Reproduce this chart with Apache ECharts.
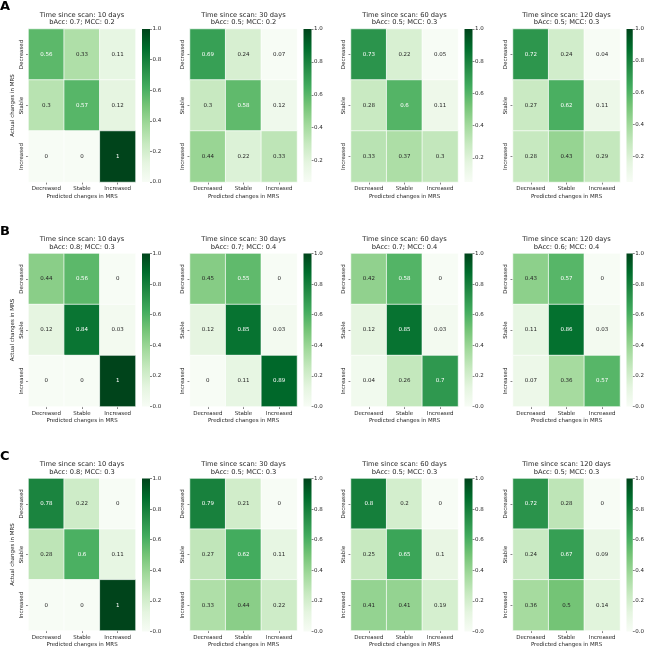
<!DOCTYPE html>
<html>
<head>
<meta charset="utf-8">
<script src="https://cdn.jsdelivr.net/npm/echarts@6/dist/echarts.min.js"></script>
<style>
html,body{margin:0;padding:0;background:#fff;}
#chart{width:647px;height:649px;}
</style>
</head>
<body>
<div id="chart"></div>
<script>
// ---- data ----
var categories = ['Decreased', 'Stable', 'Increased'];
var panelLetters = ['A', 'B', 'C'];
var days = [10, 30, 60, 120];
var bAcc = [[0.7, 0.5, 0.5, 0.5], [0.8, 0.7, 0.7, 0.6], [0.8, 0.5, 0.5, 0.5]];
var mcc  = [[0.2, 0.2, 0.3, 0.3], [0.3, 0.4, 0.4, 0.4], [0.3, 0.3, 0.3, 0.3]];
var colorbarTicks = [0.0, 0.2, 0.4, 0.6, 0.8, 1.0];

var matA10  = [[0.56, 0.33, 0.11], [0.3, 0.57, 0.12], [0, 0, 1]];
var matA30  = [[0.69, 0.24, 0.07], [0.3, 0.58, 0.12], [0.44, 0.22, 0.33]];
var matA60  = [[0.73, 0.22, 0.05], [0.28, 0.6, 0.11], [0.33, 0.37, 0.3]];
var matA120 = [[0.72, 0.24, 0.04], [0.27, 0.62, 0.11], [0.28, 0.43, 0.29]];
var matB10  = [[0.44, 0.56, 0], [0.12, 0.84, 0.03], [0, 0, 1]];
var matB30  = [[0.45, 0.55, 0], [0.12, 0.85, 0.03], [0, 0.11, 0.89]];
var matB60  = [[0.42, 0.58, 0], [0.12, 0.85, 0.03], [0.04, 0.26, 0.7]];
var matB120 = [[0.43, 0.57, 0], [0.11, 0.86, 0.03], [0.07, 0.36, 0.57]];
var matC10  = [[0.78, 0.22, 0], [0.28, 0.6, 0.11], [0, 0, 1]];
var matC30  = [[0.79, 0.21, 0], [0.27, 0.62, 0.11], [0.33, 0.44, 0.22]];
var matC60  = [[0.8, 0.2, 0], [0.25, 0.65, 0.1], [0.41, 0.41, 0.19]];
var matC120 = [[0.72, 0.28, 0], [0.24, 0.67, 0.09], [0.36, 0.5, 0.14]];
var matrices = [[matA10, matA30, matA60, matA120], [matB10, matB30, matB60, matB120], [matC10, matC30, matC60, matC120]];

// ---- style / layout ----
var greens = ['#f7fcf5', '#e5f5e0', '#c7e9c0', '#a1d99b', '#74c476', '#41ab5d', '#238b45', '#006d2c', '#00441b'];
var FONT = 'DejaVu Sans';
var colLeft = [28.5, 190, 351, 513];
var rowTop = [29, 253.5, 478.5];
var HW = 107, HH = 153, CBOFF = 113.5, CBW = 8;
var letterTop = [0, 225, 450];

function hexToRgb(h) { return [parseInt(h.substr(1, 2), 16), parseInt(h.substr(3, 2), 16), parseInt(h.substr(5, 2), 16)]; }
var greensRgb = greens.map(hexToRgb);
function cmap(t) {
  t = Math.max(0, Math.min(1, t));
  var p = t * (greensRgb.length - 1);
  var i = Math.min(Math.floor(p), greensRgb.length - 2);
  var f = p - i;
  var a = greensRgb[i], b = greensRgb[i + 1];
  return [0, 1, 2].map(function (k) { return a[k] + (b[k] - a[k]) * f; });
}
function rgbStr(c) { return 'rgb(' + c.map(function (v) { return Math.round(v); }).join(',') + ')'; }
function lum(c) {
  var l = c.map(function (v) { v = v / 255; return v <= 0.03928 ? v / 12.92 : Math.pow((v + 0.055) / 1.055, 2.4); });
  return 0.2126 * l[0] + 0.7152 * l[1] + 0.0722 * l[2];
}

var grids = [], xAxes = [], yAxes = [], series = [], titles = [], graphics = [];
var gi = 0;
for (var r = 0; r < 3; r++) {
  graphics.push({ type: 'text', left: 0, top: letterTop[r], style: { text: panelLetters[r], font: 'bold 13px ' + FONT, fill: '#000' } });
  for (var c = 0; c < 4; c++) {
    var m = matrices[r][c];
    var vmin = Math.min.apply(null, m.map(function (row) { return Math.min.apply(null, row); }));
    var vmax = 1;
    // heatmap grid
    grids.push({ left: colLeft[c], top: rowTop[r], width: HW, height: HH });
    xAxes.push({
      type: 'category', gridIndex: gi, data: categories, position: 'bottom',
      axisLine: { show: false }, splitLine: { show: false },
      axisTick: { show: true, alignWithLabel: true, length: 2.5, lineStyle: { color: '#333', width: 0.6 } },
      axisLabel: { fontSize: 5.5, fontFamily: FONT, color: '#262626', margin: 4, interval: 0 },
      name: 'Predicted changes in MRS', nameLocation: 'middle', nameGap: 11.5,
      nameTextStyle: { fontSize: 5.5, fontFamily: FONT, color: '#262626' }
    });
    yAxes.push({
      type: 'category', gridIndex: gi, data: categories, inverse: true,
      axisLine: { show: false }, splitLine: { show: false },
      axisTick: { show: true, alignWithLabel: true, length: 2.5, lineStyle: { color: '#333', width: 0.6 } },
      axisLabel: { fontSize: 5.5, fontFamily: FONT, color: '#262626', rotate: 90, margin: 4, interval: 0 },
      name: c === 0 ? 'Actual changes in MRS' : '', nameLocation: 'middle', nameGap: 12.5,
      nameTextStyle: { fontSize: 5.5, fontFamily: FONT, color: '#262626' }
    });
    var data = [];
    for (var i = 0; i < 3; i++) {
      for (var j = 0; j < 3; j++) {
        var v = m[i][j];
        var col = cmap((v - vmin) / (vmax - vmin));
        data.push({
          value: [j, i, v],
          itemStyle: { color: rgbStr(col) },
          label: { color: lum(col) > 0.408 ? '#262626' : '#ffffff' }
        });
      }
    }
    series.push({
      type: 'heatmap', xAxisIndex: gi, yAxisIndex: gi, data: data,
      itemStyle: { borderColor: '#ffffff', borderWidth: 0.7 },
      label: { show: true, fontSize: 5.5, fontFamily: FONT, formatter: function (p) { return String(p.value[2]); } },
      emphasis: { disabled: true }, animation: false
    });
    titles.push({
      text: 'Time since scan: ' + days[c] + ' days\nbAcc: ' + bAcc[r][c] + '; MCC: ' + mcc[r][c],
      left: colLeft[c] + HW / 2, top: rowTop[r] - 17.6, textAlign: 'center', padding: 0,
      textStyle: { fontSize: 6.7, lineHeight: 7.4, fontWeight: 'normal', fontFamily: FONT, color: '#262626' }
    });
    gi++;
    // colorbar grid
    var ticks = colorbarTicks.filter(function (t) { return t >= vmin - 1e-9; });
    grids.push({ left: colLeft[c] + CBOFF, top: rowTop[r], width: CBW, height: HH });
    xAxes.push({ type: 'category', gridIndex: gi, data: ['cb'], show: false });
    yAxes.push({
      type: 'value', gridIndex: gi, min: vmin, max: vmax, position: 'right',
      axisLine: { show: false }, splitLine: { show: false },
      axisTick: { show: true, length: 2, customValues: ticks, lineStyle: { color: '#333', width: 0.6 } },
      axisLabel: { fontSize: 5.5, fontFamily: FONT, color: '#262626', margin: 2.5, customValues: ticks,
        formatter: function (v) { return v.toFixed(1); } }
    });
    var stops = greens.map(function (g, k) { return { offset: k / (greens.length - 1), color: greens[greens.length - 1 - k] }; });
    series.push({
      type: 'bar', xAxisIndex: gi, yAxisIndex: gi, stack: 'cb' + gi, barWidth: '100%', silent: true,
      data: [vmin], itemStyle: { color: 'rgba(0,0,0,0)' }, animation: false
    });
    series.push({
      type: 'bar', xAxisIndex: gi, yAxisIndex: gi, stack: 'cb' + gi, barWidth: '100%', silent: true,
      data: [vmax - vmin],
      itemStyle: { color: { type: 'linear', x: 0, y: 0, x2: 0, y2: 1, colorStops: stops } }, animation: false
    });
    gi++;
  }
}

var chart = echarts.init(document.getElementById('chart'), null, { renderer: 'canvas' });
chart.setOption({
  backgroundColor: '#ffffff',
  animation: false,
  title: titles,
  grid: grids,
  xAxis: xAxes,
  yAxis: yAxes,
  series: series,
  graphic: graphics
});
</script>
</body>
</html>
